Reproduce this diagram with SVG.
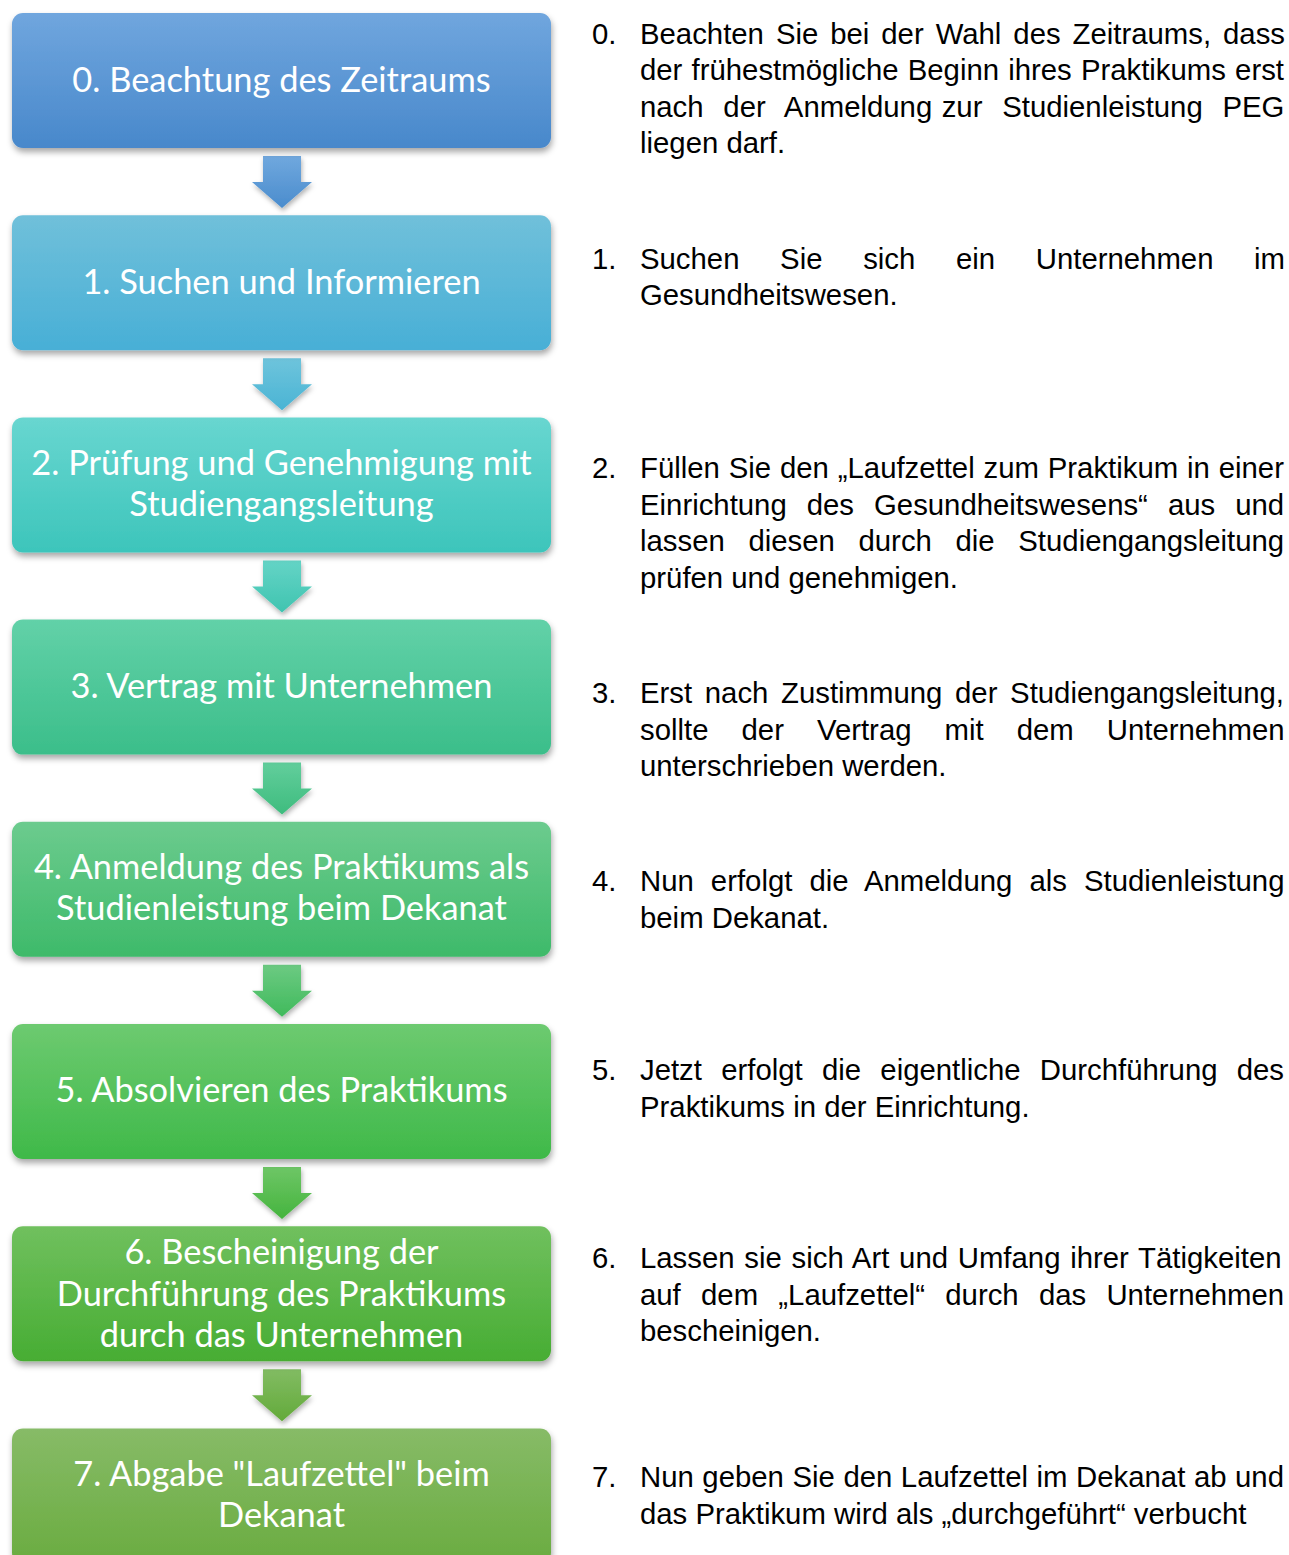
<svg xmlns="http://www.w3.org/2000/svg" width="1289" height="1555" viewBox="0 0 1289 1555">
<defs>
<style>
.box{stroke:none;filter:url(#sh)}
.arr{stroke:none;filter:url(#sh2)}
.bt{font-family:Lato,"Open Sans",sans-serif;font-size:34.4px;fill:#fff;text-anchor:middle}
.rt{font-family:"Liberation Sans",Arial,sans-serif;font-size:29.33px;fill:#000}
</style>
<filter id="sh" x="-5%" y="-10%" width="110%" height="125%">
<feDropShadow dx="1" dy="4" stdDeviation="3" flood-color="#000" flood-opacity="0.35"/>
</filter>
<filter id="sh2" x="-20%" y="-20%" width="140%" height="150%">
<feDropShadow dx="1" dy="3" stdDeviation="2.5" flood-color="#000" flood-opacity="0.3"/>
</filter>
<linearGradient id="g0" x1="0" y1="0" x2="0" y2="1"><stop offset="0" stop-color="#70a6de"/><stop offset="1" stop-color="#4888cb"/></linearGradient>
<linearGradient id="g1" x1="0" y1="0" x2="0" y2="1"><stop offset="0" stop-color="#70c0da"/><stop offset="1" stop-color="#48afd6"/></linearGradient>
<linearGradient id="g2" x1="0" y1="0" x2="0" y2="1"><stop offset="0" stop-color="#68d6d0"/><stop offset="1" stop-color="#3dc5bb"/></linearGradient>
<linearGradient id="g3" x1="0" y1="0" x2="0" y2="1"><stop offset="0" stop-color="#62d1a8"/><stop offset="1" stop-color="#3bbe8a"/></linearGradient>
<linearGradient id="g4" x1="0" y1="0" x2="0" y2="1"><stop offset="0" stop-color="#6ccb8e"/><stop offset="1" stop-color="#3eba6a"/></linearGradient>
<linearGradient id="g5" x1="0" y1="0" x2="0" y2="1"><stop offset="0" stop-color="#6dca70"/><stop offset="1" stop-color="#3fb949"/></linearGradient>
<linearGradient id="g6" x1="0" y1="0" x2="0" y2="1"><stop offset="0" stop-color="#70c05e"/><stop offset="1" stop-color="#47ad33"/></linearGradient>
<linearGradient id="g7" x1="0" y1="0" x2="0" y2="1"><stop offset="0" stop-color="#87bb67"/><stop offset="1" stop-color="#6aac40"/></linearGradient>
<linearGradient id="a0" x1="0" y1="0" x2="0" y2="1"><stop offset="0" stop-color="#70a8de"/><stop offset="1" stop-color="#4a8ccd"/></linearGradient>
<linearGradient id="a1" x1="0" y1="0" x2="0" y2="1"><stop offset="0" stop-color="#6ec4dc"/><stop offset="1" stop-color="#4ab4d4"/></linearGradient>
<linearGradient id="a2" x1="0" y1="0" x2="0" y2="1"><stop offset="0" stop-color="#64d4c6"/><stop offset="1" stop-color="#40c4b0"/></linearGradient>
<linearGradient id="a3" x1="0" y1="0" x2="0" y2="1"><stop offset="0" stop-color="#62ce9c"/><stop offset="1" stop-color="#3ebc7e"/></linearGradient>
<linearGradient id="a4" x1="0" y1="0" x2="0" y2="1"><stop offset="0" stop-color="#6cca82"/><stop offset="1" stop-color="#40ba5c"/></linearGradient>
<linearGradient id="a5" x1="0" y1="0" x2="0" y2="1"><stop offset="0" stop-color="#6ec666"/><stop offset="1" stop-color="#45b43e"/></linearGradient>
<linearGradient id="a6" x1="0" y1="0" x2="0" y2="1"><stop offset="0" stop-color="#82bc63"/><stop offset="1" stop-color="#63aa3a"/></linearGradient>
</defs>
<rect width="1289" height="1555" fill="#fff"/>

<g id="connectors">
<path class="arr" fill="url(#a0)" d="M263,156 H301 V182 H312 L282,208 L252,182 H263 Z"/>
<path class="arr" fill="url(#a1)" d="M263,358.2 H301 V384.2 H312 L282,410.2 L252,384.2 H263 Z"/>
<path class="arr" fill="url(#a2)" d="M263,560.4 H301 V586.4 H312 L282,612.4 L252,586.4 H263 Z"/>
<path class="arr" fill="url(#a3)" d="M263,762.6 H301 V788.6 H312 L282,814.6 L252,788.6 H263 Z"/>
<path class="arr" fill="url(#a4)" d="M263,964.8 H301 V990.8 H312 L282,1016.8 L252,990.8 H263 Z"/>
<path class="arr" fill="url(#a5)" d="M263,1167 H301 V1193 H312 L282,1219 L252,1193 H263 Z"/>
<path class="arr" fill="url(#a6)" d="M263,1369.2 H301 V1395.2 H312 L282,1421.2 L252,1395.2 H263 Z"/>
</g>

<g id="node0">
<rect class="box" x="12" y="13" width="539" height="135" rx="11" fill="url(#g0)"/>
<text class="bt" x="281.5" y="92">0. Beachtung des Zeitraums</text>
</g>
<g id="node1">
<rect class="box" x="12" y="215.2" width="539" height="135" rx="11" fill="url(#g1)"/>
<text class="bt" x="281.5" y="294">1. Suchen und Informieren</text>
</g>
<g id="node2">
<rect class="box" x="12" y="417.4" width="539" height="135" rx="11" fill="url(#g2)"/>
<text class="bt" x="281.5" y="475">2. Prüfung und Genehmigung mit</text>
<text class="bt" x="281.5" y="516">Studiengangsleitung</text>
</g>
<g id="node3">
<rect class="box" x="12" y="619.6" width="539" height="135" rx="11" fill="url(#g3)"/>
<text class="bt" x="281.5" y="698">3. Vertrag mit Unternehmen</text>
</g>
<g id="node4">
<rect class="box" x="12" y="821.8" width="539" height="135" rx="11" fill="url(#g4)"/>
<text class="bt" x="281.5" y="879">4. Anmeldung des Praktikums als</text>
<text class="bt" x="281.5" y="920">Studienleistung beim Dekanat</text>
</g>
<g id="node5">
<rect class="box" x="12" y="1024" width="539" height="135" rx="11" fill="url(#g5)"/>
<text class="bt" x="281.5" y="1102">5. Absolvieren des Praktikums</text>
</g>
<g id="node6">
<rect class="box" x="12" y="1226.2" width="539" height="135" rx="11" fill="url(#g6)"/>
<text class="bt" x="281.5" y="1264">6. Bescheinigung der</text>
<text class="bt" x="281.5" y="1305.5">Durchführung des Praktikums</text>
<text class="bt" x="281.5" y="1347">durch das Unternehmen</text>
</g>
<g id="node7">
<rect class="box" x="12" y="1428.6" width="539" height="135" rx="11" fill="url(#g7)"/>
<text class="bt" x="281.5" y="1486">7. Abgabe "Laufzettel" beim</text>
<text class="bt" x="281.5" y="1527">Dekanat</text>
</g>

<g id="desc0">
<text class="rt" x="592" y="43.5">0.</text>
<text class="rt" x="640" y="43.5" word-spacing="3.8">Beachten Sie bei der Wahl des Zeitraums, dass</text>
<text class="rt" x="640" y="80" word-spacing="1">der frühestmögliche Beginn ihres Praktikums erst</text>
<text class="rt" x="640" y="116.5" word-spacing="11.6">nach der Anmeldung<tspan x="941.7">zur Studienleistung PEG</tspan></text>
<text class="rt" x="640" y="153">liegen darf.</text>
</g>
<g id="desc1">
<text class="rt" x="592" y="268.5">1.</text>
<text class="rt" x="640" y="268.5" word-spacing="32.5">Suchen Sie sich ein Unternehmen im</text>
<text class="rt" x="640" y="305">Gesundheitswesen.</text>
</g>
<g id="desc2">
<text class="rt" x="592" y="478">2.</text>
<text class="rt" x="640" y="478" word-spacing="0.7">Füllen Sie den „Laufzettel zum Praktikum in einer</text>
<text class="rt" x="640" y="514.5" word-spacing="11.85">Einrichtung des Gesundheitswesens“ aus und</text>
<text class="rt" x="640" y="551" word-spacing="15.5">lassen diesen durch die Studiengangsleitung</text>
<text class="rt" x="640" y="587.5">prüfen und genehmigen.</text>
</g>
<g id="desc3">
<text class="rt" x="592" y="703">3.</text>
<text class="rt" x="640" y="703" word-spacing="4.5">Erst nach Zustimmung der Studiengangsleitung,</text>
<text class="rt" x="640" y="739.5" word-spacing="24.9">sollte der Vertrag mit dem Unternehmen</text>
<text class="rt" x="640" y="776">unterschrieben werden.</text>
</g>
<g id="desc4">
<text class="rt" x="592" y="891">4.</text>
<text class="rt" x="640" y="891" word-spacing="8.9">Nun erfolgt die Anmeldung als Studienleistung</text>
<text class="rt" x="640" y="927.5">beim Dekanat.</text>
</g>
<g id="desc5">
<text class="rt" x="592" y="1080">5.</text>
<text class="rt" x="640" y="1080" word-spacing="11.1">Jetzt erfolgt die eigentliche Durchführung des</text>
<text class="rt" x="640" y="1116.5">Praktikums in der Einrichtung.</text>
</g>
<g id="desc6">
<text class="rt" x="592" y="1268">6.</text>
<text class="rt" x="640" y="1268" word-spacing="1.6">Lassen sie sich Art und Umfang ihrer Tätigkeiten</text>
<text class="rt" x="640" y="1304.5" word-spacing="12.1">auf dem „Laufzettel“ durch das Unternehmen</text>
<text class="rt" x="640" y="1341">bescheinigen.</text>
</g>
<g id="desc7">
<text class="rt" x="592" y="1487">7.</text>
<text class="rt" x="640" y="1487" word-spacing="0.4">Nun geben Sie den Laufzettel im Dekanat ab und</text>
<text class="rt" x="640" y="1523.5">das Praktikum wird als „durchgeführt“ verbucht</text>
</g>
</svg>
